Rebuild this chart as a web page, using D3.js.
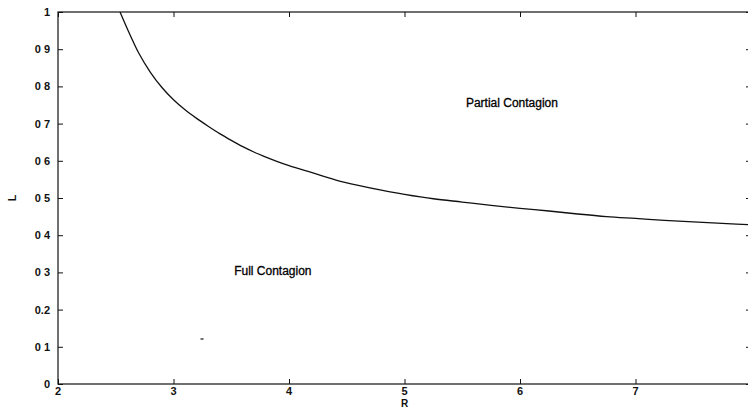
<!DOCTYPE html>
<html><head><meta charset="utf-8">
<script src="https://cdn.jsdelivr.net/npm/d3@7"></script>
<style>
body{margin:0;background:#fff;}
text{font-family:"Liberation Sans",Arial,sans-serif;font-weight:bold;fill:#111;}
</style></head>
<body><svg id="c" width="748" height="409"></svg>
<script>
const curveR = [2.537,2.6,2.7,2.8,2.9,3.0,3.1,3.2,3.3,3.4,3.5,3.6,3.7,3.8,3.9,4.0,4.2,4.4,4.6,4.8,5.0,5.25,5.5,5.75,6.0,6.25,6.5,6.75,7.0,7.25,7.5,7.75,8.0];
const curveL = [1.0,0.955,0.889,0.838,0.797,0.764,0.737,0.714,0.693,0.673,0.655,0.638,0.623,0.610,0.598,0.587,0.568,0.549,0.534,0.521,0.510,0.498,0.489,0.480,0.472,0.465,0.457,0.450,0.445,0.440,0.436,0.432,0.428];
const xTicks = [2,3,4,5,6,7];
const xTickLabels = ["2","3","4","5","6","7"];
const yTicks = [0,0.1,0.2,0.3,0.4,0.5,0.6,0.7,0.8,0.9,1];
const yTickLabels = ["0","0 1","0.2","0 3","0 4","0 5","0 6","0 7","0 8","0 9","1"];
const regionLabels = ["Partial Contagion","Full Contagion"];
const regionR = [5.93,3.86];
const regionL = [0.755,0.304];
const specR = [3.247];
const specL = [0.121];

const svg = d3.select("#c");
const x = d3.scaleLinear().domain([2,8]).range([58,751]);
const y = d3.scaleLinear().domain([0,1]).range([384,12]);

svg.append("clipPath").attr("id","clip").append("rect")
  .attr("x",58).attr("y",12).attr("width",693).attr("height",372);

// box
svg.append("rect").attr("x",x(2)).attr("y",y(1)).attr("width",x(8)-x(2)).attr("height",y(0)-y(1))
  .attr("fill","none").attr("stroke","#111").attr("stroke-width",1.2);

const fmtX = (d,i)=>xTickLabels[i];
const fmtY = (d,i)=>yTickLabels[i];
const gBottom = svg.append("g").attr("transform",`translate(0,${y(0)})`)
  .call(d3.axisTop(x).tickValues(xTicks).tickSize(5).tickFormat(""));
const gTop = svg.append("g").attr("transform",`translate(0,${y(1)})`)
  .call(d3.axisBottom(x).tickValues(xTicks).tickSize(5).tickFormat(""));
const gLeft = svg.append("g").attr("transform",`translate(${x(2)},0)`)
  .call(d3.axisRight(y).tickValues(yTicks).tickSize(5).tickFormat(""));
const gRight = svg.append("g").attr("transform",`translate(${x(8)},0)`)
  .call(d3.axisLeft(y).tickValues(yTicks).tickSize(5).tickFormat(""));
[gBottom,gTop,gLeft,gRight].forEach(g=>{g.select(".domain").remove();g.selectAll("line").attr("stroke","#111");});

// tick labels
svg.append("g").selectAll("text").data(xTicks).join("text")
  .attr("x",d=>x(d)).attr("y",y(0)+11).attr("text-anchor","middle")
  .attr("font-size",11).text(fmtX);
svg.append("g").selectAll("text").data(yTicks).join("text")
  .attr("x",x(2)-8).attr("y",d=>y(d)+4).attr("text-anchor","end")
  .attr("font-size",11).text(fmtY);

// axis titles
svg.append("text").attr("x",x(5)).attr("y",407).attr("text-anchor","middle").attr("font-size",10).text("R");
svg.append("text").attr("transform",`translate(16,${y(0.5)}) rotate(-90)`).attr("text-anchor","middle").attr("font-size",11).text("L");

// curve
const pts = curveR.map((r,i)=>[r,curveL[i]]);
svg.append("path").datum(pts).attr("clip-path","url(#clip)")
  .attr("d",d3.line().x(d=>x(d[0])).y(d=>y(d[1])).curve(d3.curveMonotoneX))
  .attr("fill","none").attr("stroke","#111").attr("stroke-width",1.3);

// region labels
svg.append("g").selectAll("text").data(regionLabels).join("text")
  .attr("x",(d,i)=>x(regionR[i])).attr("y",(d,i)=>y(regionL[i])+4)
  .attr("text-anchor","middle").attr("font-size",12)
  .style("font-weight","normal").style("fill","#000").style("stroke","#000").style("stroke-width",0.3)
  .text(d=>d);

// speck
svg.append("g").selectAll("line").data(specR).join("line")
  .attr("x1",d=>x(d)-1.5).attr("x2",d=>x(d)+1.5)
  .attr("y1",(d,i)=>y(specL[i])).attr("y2",(d,i)=>y(specL[i]))
  .attr("stroke","#111").attr("stroke-width",1.2);
</script></body></html>
